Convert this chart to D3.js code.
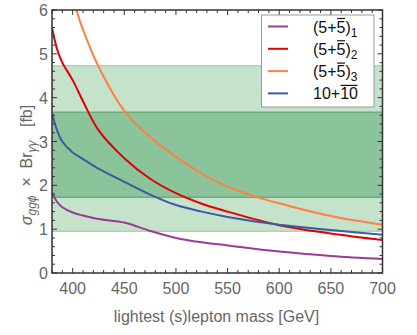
<!DOCTYPE html>
<html>
<head>
<meta charset="utf-8">
<script src="https://cdn.jsdelivr.net/npm/d3@7"></script>
<style>
  html, body { margin: 0; padding: 0; background: #fff; }
  svg { display: block; font-family: "Liberation Sans", Arial, sans-serif; }
</style>
</head>
<body>
<div id="chart"></div>
<script>
// masses (GeV) shared by three of the curves
const massGrid = [380, 385, 390, 400, 410, 425, 450, 475, 500, 525, 550, 600, 650, 700];
const xsec51 = [1.84, 1.62, 1.5, 1.38, 1.31, 1.23, 1.15, 0.96, 0.8, 0.7, 0.63, 0.49, 0.39, 0.32];
const xsec52 = [5.6, 5.1, 4.8, 4.4, 3.92, 3.26, 2.62, 2.15, 1.82, 1.58, 1.4, 1.09, 0.9, 0.75];
const xsec1010 = [3.65, 3.25, 3.0, 2.75, 2.6, 2.38, 2.08, 1.79, 1.55, 1.4, 1.28, 1.1, 0.98, 0.87];
// the third curve enters through the top of the frame
const massOrange = [403, 410, 425, 450, 475, 500, 525, 550, 575, 600, 650, 700];
const xsec53 = [6.05, 5.55, 4.71, 3.7, 3.1, 2.65, 2.27, 1.97, 1.76, 1.59, 1.3, 1.1];

// observed bands [low, high] in fb
const outerBand = [0.95, 4.73];
const innerBand = [1.73, 3.67];

const xTicks = [400, 450, 500, 550, 600, 650, 700];
const yTicks = [0, 1, 2, 3, 4, 5, 6];

const series = [
  { label: ["(5+", "5", ")", "1"], bar: [3], color: "#9b3a98", mass: massGrid, xsec: xsec51 },
  { label: ["(5+", "5", ")", "2"], bar: [3], color: "#e00000", mass: massGrid, xsec: xsec52 },
  { label: ["(5+", "5", ")", "3"], bar: [3], color: "#ff7f45", mass: massOrange, xsec: xsec53 },
  { label: ["10+", "10", "", ""], bar: [3, 4], color: "#3a5ba4", mass: massGrid, xsec: xsec1010 },
];

const width = 417, height = 335;
const marginLeft = 52, marginRight = 34.5, marginTop = 10, marginBottom = 62;

const x = d3.scaleLinear().domain([380, 700]).range([marginLeft, width - marginRight]);
const y = d3.scaleLinear().domain([0, 6]).range([height - marginBottom, marginTop]);

const svg = d3.select("#chart").append("svg")
  .attr("width", width).attr("height", height)
  .attr("viewBox", [0, 0, width, height]);

svg.append("defs").append("clipPath").attr("id", "plot-clip")
  .append("rect")
  .attr("x", x(380)).attr("y", y(6))
  .attr("width", x(700) - x(380)).attr("height", y(0) - y(6));

// bands
const gBands = svg.append("g").attr("clip-path", "url(#plot-clip)");
[[outerBand, "#c5e2cb", "#acd6b5"], [innerBand, "#8bc49b", "#6aae7c"]].forEach(([b, fill, edge]) => {
  gBands.append("rect")
    .attr("x", x(380)).attr("width", x(700) - x(380))
    .attr("y", y(b[1])).attr("height", y(b[0]) - y(b[1]))
    .attr("fill", fill);
  b.forEach((v) => {
    gBands.append("line")
      .attr("x1", x(380)).attr("x2", x(700))
      .attr("y1", y(v)).attr("y2", y(v))
      .attr("stroke", edge).attr("stroke-width", 1.5);
  });
});

// curves
const line = d3.line()
  .x((d) => x(d[0]))
  .y((d) => y(d[1]))
  .curve(d3.curveCatmullRom.alpha(0.5));

svg.append("g").attr("clip-path", "url(#plot-clip)")
  .selectAll("path")
  .data(series)
  .join("path")
  .attr("fill", "none")
  .attr("stroke", (d) => d.color)
  .attr("stroke-width", 2)
  .attr("d", (d) => line(d.mass.map((m, i) => [m, d.xsec[i]])));

// frame with inward ticks on all sides
const frameColor = "#333";
const gFrame = svg.append("g");
const xMinor = d3.range(380, 701, 10);
const yMinor = d3.range(0, 6.01, 0.2);
const isMajorX = (v) => v % 50 === 0;
const isMajorY = (v) => Math.abs(v - Math.round(v)) < 1e-6;

xMinor.forEach((v) => {
  const len = isMajorX(v) ? 5 : 3;
  gFrame.append("line").attr("x1", x(v)).attr("x2", x(v))
    .attr("y1", y(0)).attr("y2", y(0) - len)
    .attr("stroke", frameColor).attr("stroke-width", 1);
  gFrame.append("line").attr("x1", x(v)).attr("x2", x(v))
    .attr("y1", y(6)).attr("y2", y(6) + len)
    .attr("stroke", frameColor).attr("stroke-width", 1);
});
yMinor.forEach((v) => {
  const len = isMajorY(v) ? 5 : 3;
  gFrame.append("line").attr("x1", x(380)).attr("x2", x(380) + len)
    .attr("y1", y(v)).attr("y2", y(v))
    .attr("stroke", frameColor).attr("stroke-width", 1);
  gFrame.append("line").attr("x1", x(700)).attr("x2", x(700) - len)
    .attr("y1", y(v)).attr("y2", y(v))
    .attr("stroke", frameColor).attr("stroke-width", 1);
});

gFrame.append("rect")
  .attr("x", x(380)).attr("y", y(6))
  .attr("width", x(700) - x(380)).attr("height", y(0) - y(6))
  .attr("fill", "none").attr("stroke", frameColor).attr("stroke-width", 1.5);

// tick labels
const labelColor = "#666";
svg.append("g").selectAll("text")
  .data(xTicks).join("text")
  .attr("x", (d) => x(d)).attr("y", y(0) + 20.5)
  .attr("text-anchor", "middle").attr("font-size", 16).attr("fill", labelColor)
  .text((d) => d);

svg.append("g").selectAll("text")
  .data(yTicks).join("text")
  .attr("x", x(380) - 4).attr("y", (d) => y(d) + 6)
  .attr("text-anchor", "end").attr("font-size", 16).attr("fill", labelColor)
  .text((d) => d);

// axis titles
svg.append("text")
  .attr("x", 216.5).attr("y", 322)
  .attr("text-anchor", "middle").attr("font-size", 16).attr("fill", labelColor)
  .text("lightest (s)lepton mass [GeV]");

const yTitle = svg.append("text")
  .attr("transform", "translate(32,165) rotate(-90)")
  .attr("text-anchor", "middle").attr("font-size", 16).attr("fill", labelColor)
  .attr("xml:space", "preserve");
yTitle.append("tspan").attr("font-style", "italic").text("σ");
yTitle.append("tspan").attr("font-style", "italic").attr("font-size", 12).attr("dy", 4).text("ggϕ");
yTitle.append("tspan").attr("dy", -4).text("  \u00d7  Br");
yTitle.append("tspan").attr("font-style", "italic").attr("font-size", 12).attr("dy", 4).text("γγ");
yTitle.append("tspan").attr("dy", -4).text("   [fb]");

// legend
const legend = svg.append("g");
legend.append("rect")
  .attr("x", 261.5).attr("y", 15).attr("width", 112.5).attr("height", 92)
  .attr("fill", "#fff").attr("stroke", "#999").attr("stroke-width", 1);

series.forEach((s, i) => {
  const cy = 26.5 + i * 22.3;
  legend.append("line")
    .attr("x1", 268).attr("x2", 288).attr("y1", cy).attr("y2", cy)
    .attr("stroke", s.color).attr("stroke-width", 2);
  const baseline = cy + 6;
  const t = legend.append("text")
    .attr("x", 313).attr("y", baseline)
    .attr("font-size", 16).attr("fill", "#111");
  t.append("tspan").text(s.label[0]);
  t.append("tspan").text(s.label[1]);
  t.append("tspan").text(s.label[2]);
  if (s.label[3]) {
    t.append("tspan").attr("font-size", 12).attr("dy", 4).text(s.label[3]);
  }
  // overline on the conjugate representation
  const node = t.node();
  const first = node.getExtentOfChar(s.bar[0]);
  const last = node.getExtentOfChar(s.bar[s.bar.length - 1]);
  legend.append("line")
    .attr("x1", first.x + 0.5).attr("x2", last.x + last.width - 0.5)
    .attr("y1", baseline - 14).attr("y2", baseline - 14)
    .attr("stroke", "#111").attr("stroke-width", 1.2);
});
</script>
</body>
</html>
